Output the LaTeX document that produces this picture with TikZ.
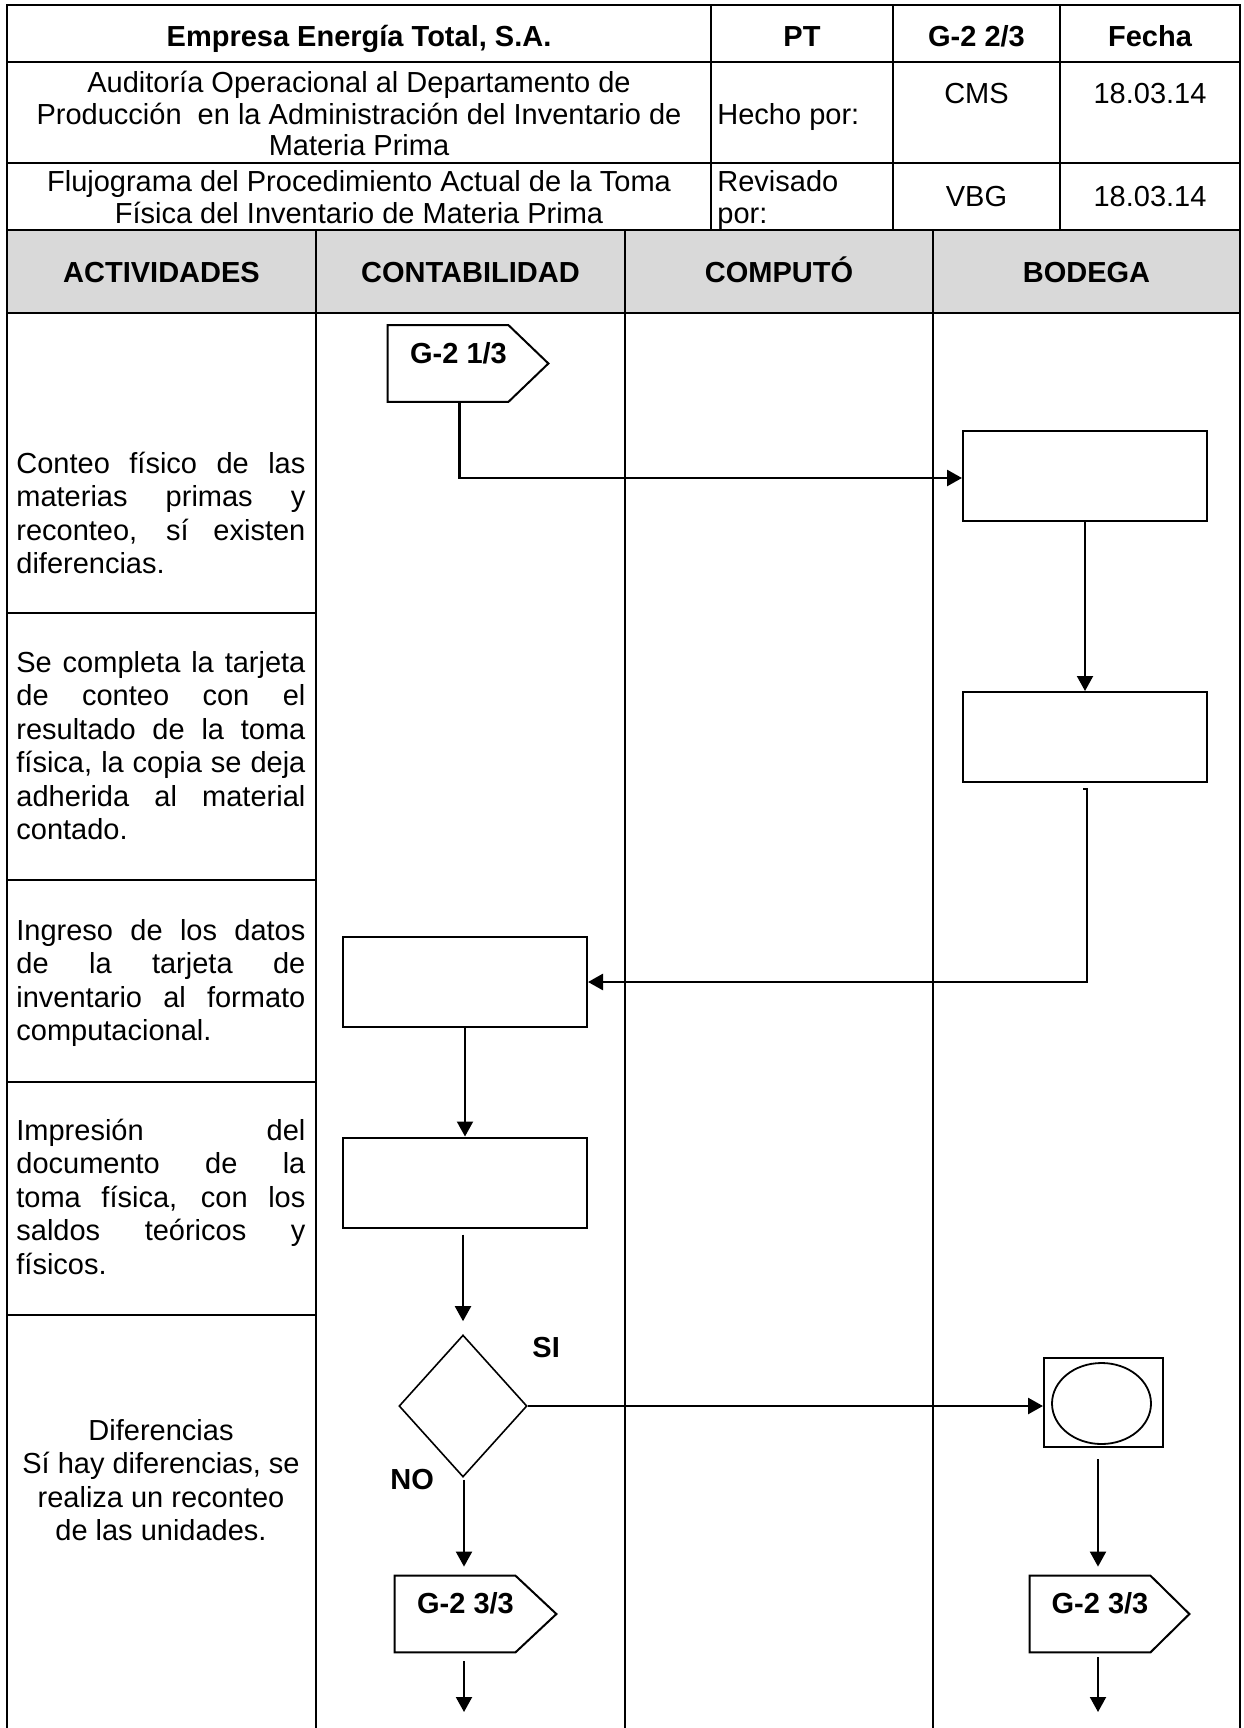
\documentclass[tikz,border=0pt]{standalone}
\usepackage{fontspec}
\setmainfont{Liberation Sans}
\usetikzlibrary{arrows.meta,shapes.geometric,calc}

% one justified line of a fixed-width text block
\newcommand\jl[1]{\makebox[\linewidth][s]{#1}}

\begin{document}
\begin{tikzpicture}[x=0.5pt,y=-0.5pt,
  grid/.style={line width=1.3pt, line cap=rect},
  hdr/.style={font=\fontsize{14.5}{15.75}\selectfont, inner sep=0pt, anchor=base},
  hdrb/.style={hdr, font=\fontsize{14.5}{15.75}\selectfont\bfseries},
  act/.style={font=\fontsize{14.5}{16.75}\selectfont, inner sep=0pt, anchor=base west},
  actc/.style={act, anchor=base},
  flabel/.style={font=\fontsize{14.5}{16}\selectfont\bfseries, inner sep=0pt, anchor=base},
  procbox/.style={draw, line width=1pt, rectangle, inner sep=0pt,
                  minimum width=122pt, minimum height=45pt},
  pent/.style={rectangle, draw=none, inner sep=0pt, minimum width=60pt, minimum height=38pt},
  pentline/.style={line width=1pt, line join=miter},
  decision/.style={draw, diamond, line width=0.8pt, inner sep=0pt, aspect=0.9,
                   minimum width=64pt, minimum height=71pt},
  arr/.style={-{Triangle[length=7.5pt,width=8pt]}, line width=1pt},
  arrh/.style={arr, line width=1.35pt}
]
\useasboundingbox (0,0) rectangle (1243,1728);

% ---------- table frame ----------
\fill[gray!30] (7,230) rectangle (1240,313);
\draw[grid] (7,5) -- (1240,5);
\draw[grid] (7,5) -- (7,1728);
\draw[grid] (1240,5) -- (1240,1728);
\foreach \yy in {62,163,230,313} \draw[grid] (7,\yy) -- (1240,\yy);
\foreach \xx in {711,893,1060} \draw[grid] (\xx,5) -- (\xx,230);
\foreach \xx in {316,625,933} \draw[grid] (\xx,230) -- (\xx,1728);
\foreach \yy in {613,880,1082,1315} \draw[grid] (7,\yy) -- (316,\yy);

% ---------- heading ----------
\node[hdrb] (empresa) at (359,47) {Empresa Energía Total, S.A.};
\node[hdrb] (pt) at (802,47) {PT};
\node[hdrb] (hoja) at (976.5,47) {G-2 2/3};
\node[hdrb] (fecha) at (1150,47) {Fecha};

\node[hdr] (aud) at (359,93) {\parbox[t]{350pt}{\centering
  Auditoría Operacional al Departamento de\\
  Producción\ \ en la Administración del Inventario de\\
  Materia Prima}};
\node[hdr, anchor=base west] (hecho) at (717,124.5) {Hecho por:};
\node[hdr] (cms) at (976.5,104) {CMS};
\node[hdr] (f1) at (1150,104) {18.03.14};

\node[hdr] (fluj) at (359,192) {\parbox[t]{350pt}{\centering
  Flujograma del Procedimiento Actual de la Toma\\
  Física del Inventario de Materia Prima}};
\node[hdr, anchor=base west] (rev) at (717,192) {\parbox[t]{80pt}{Revisado\\por:}};
\node[hdr] (vbg) at (976.5,207) {VBG};
\node[hdr] (f2) at (1150,207) {18.03.14};

% ---------- lane titles ----------
\node[hdrb] (lact) at (161.5,282) {ACTIVIDADES};
\node[hdrb] (lcon) at (470.5,282) {CONTABILIDAD};
\node[hdrb] (lcom) at (779,282) {COMPUTÓ};
\node[hdrb] (lbod) at (1086.5,282) {BODEGA};

% ---------- activity descriptions ----------
\node[act] (a1) at (16,473) {\parbox[t]{144.5pt}{%
  \jl{Conteo físico de las}\\
  \jl{materias primas y}\\
  \jl{reconteo, sí existen}\\
  diferencias.}};
\node[act] (a2) at (16,672) {\parbox[t]{144.5pt}{%
  \jl{Se completa la tarjeta}\\
  \jl{de conteo con el}\\
  \jl{resultado de la toma}\\
  \jl{física, la copia se deja}\\
  \jl{adherida al material}\\
  contado.}};
\node[act] (a3) at (16,940) {\parbox[t]{144.5pt}{%
  \jl{Ingreso de los datos}\\
  \jl{de la tarjeta de}\\
  \jl{inventario al formato}\\
  computacional.}};
\node[act] (a4) at (16,1140) {\parbox[t]{144.5pt}{%
  \jl{Impresión del}\\
  \jl{documento de la}\\
  \jl{toma física, con los}\\
  \jl{saldos teóricos y}\\
  físicos.}};
\node[actc] (a5) at (161,1440) {\parbox[t]{150pt}{\centering
  Diferencias\\
  Sí hay diferencias, se\\
  realiza un reconteo\\
  de las unidades.}};

% ---------- flow symbols ----------
% off-page connectors
\node[pent] (g1) at (448,363.5) {};
\draw[pentline] (g1.north west) -- (g1.north east) -- ($(g1.east)+(40,0)$)
  -- (g1.south east) -- (g1.south west) -- cycle;
\node[flabel] (g1t) at (458.5,363) {G-2 1/3};

\node[pent] (g3L) at (455,1614) {};
\draw[pentline] (g3L.north west) -- (g3L.north east) -- ($(g3L.east)+(41,0)$)
  -- (g3L.south east) -- (g3L.south west) -- cycle;
\node[flabel] (g3Lt) at (465.5,1613) {G-2 3/3};

\node[pent] (g3R) at (1090,1614) {};
\draw[pentline] (g3R.north west) -- (g3R.north east) -- ($(g3R.east)+(39,0)$)
  -- (g3R.south east) -- (g3R.south west) -- cycle;
\node[flabel] (g3Rt) at (1100,1613) {G-2 3/3};

% process boxes
\node[procbox] (b1) at (1085,475.5) {};
\node[procbox] (b2) at (1085,737) {};
\node[procbox] (b3) at (465,982) {};
\node[procbox] (b4) at (465,1182.5) {};

% decision
\node[decision] (d) at (463,1406) {};
\node[flabel, anchor=base west] (si) at (532,1357) {SI};
\node[flabel, anchor=base west] (no) at (390,1489) {NO};

% inspection symbol
\node[draw, rectangle, line width=1pt, inner sep=0pt,
      minimum width=59.5pt, minimum height=44.5pt] (bx) at (1103.5,1402.5) {};
\node[draw, ellipse, line width=0.9pt, inner sep=0pt,
      minimum width=49.5pt, minimum height=40.5pt] (e) at (1101.5,1403.5) {};

% free ends of the outgoing arrows
\coordinate (outL) at (464,1712);
\coordinate (outR) at (1098,1712);

% ---------- connectors ----------
\draw[arrh] ($(g1.south west)+(72,0)$) |- ($(b1.west)+(0,2.5)$);
\draw[arr] (b1.south) -- (b2.north);
\draw[arrh] ($(b2.south)+(-2,6)$) -- ++(4,0) |- (b3.east);
\draw[arr] (b3.south) -- (b4.north);
\draw[arr] ($(b4.south)+(-2,6)$) -- ($(d.north)+(0,-13)$);
\draw[arrh] (d.east) -- (d.east -| bx.west);
\draw[arr] ($(d.south)+(1,2)$) -- ($(g3L.north)+(9,-9)$);
\draw[arr] ($(g3L.south)+(9,9)$) -- (outL);
\draw[arr] ($(bx.south)+(-5.5,11)$) -- ($(g3R.north)+(8,-9)$);
\draw[arr] ($(g3R.south)+(8,5)$) -- (outR);
\end{tikzpicture}
\end{document}
